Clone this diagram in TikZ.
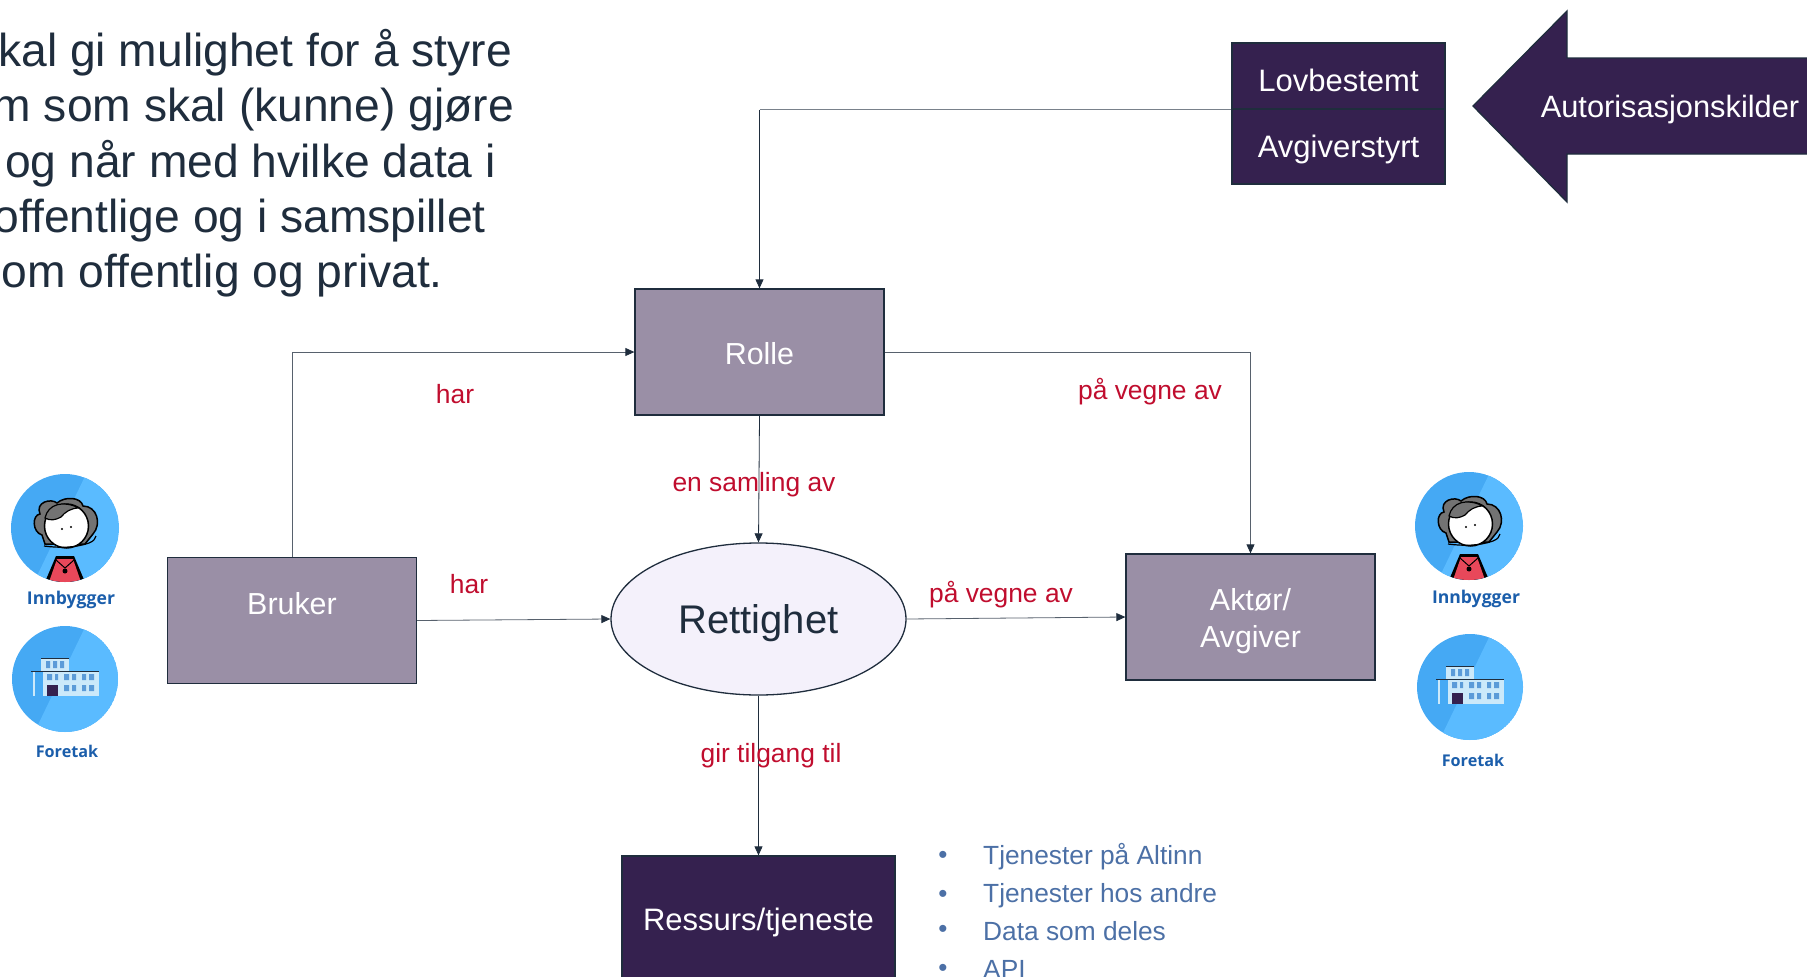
\documentclass[tikz,border=0pt]{standalone}
\usepackage{fontspec}
\setmainfont{Liberation Sans}
\newfontfamily\iconfont{Open Sans}
\usetikzlibrary{shapes.geometric, arrows.meta}
\definecolor{inkdark}{HTML}{1F2D3D}
\definecolor{boxdark}{HTML}{35214F}
\definecolor{boxgrey}{HTML}{9A8FA6}
\definecolor{ovalfill}{HTML}{F4F1FB}
\definecolor{labelred}{HTML}{C00D2E}
\definecolor{itemblue}{HTML}{4C70A6}
\definecolor{iconblue}{HTML}{1B5EAB}
\definecolor{discdark}{HTML}{45A9F4}
\definecolor{disclight}{HTML}{5ABBFF}
\definecolor{buildlight}{HTML}{CBE9FA}
\definecolor{windowblue}{HTML}{5B9BD8}
\definecolor{bodyred}{HTML}{E8485A}
\tikzstyle{lead} = [anchor=base east, inner sep=0pt, text=inkdark, font=\fontsize{46.2}{55}\selectfont]
\tikzstyle{greybox} = [rectangle, minimum width=249pt, minimum height=126pt, align=center, draw=inkdark, line width=1.3pt, fill=boxgrey, text=white, font=\fontsize{30.4}{37}\selectfont]
\tikzstyle{darkbox} = [rectangle, minimum width=213pt, align=center, draw=inkdark, line width=1.3pt, fill=boxdark, text=white, font=\fontsize{31}{37}\selectfont]
\tikzstyle{oval} = [ellipse, minimum width=295pt, minimum height=152pt, inner sep=0pt, draw=inkdark, line width=1.3pt, fill=ovalfill, text=inkdark, font=\fontsize{40}{48}\selectfont]
\tikzstyle{arrow} = [draw=inkdark, line width=0.8pt, -{Triangle[length=9pt,width=8pt,color=inkdark,fill=inkdark]}]
\tikzstyle{rel} = [text=labelred, font=\fontsize{26.4}{31}\selectfont]
\tikzstyle{item} = [anchor=base west, inner sep=0pt, text=itemblue, font=\fontsize{26.3}{31}\selectfont, label={[text=itemblue, font=\fontsize{26}{31}\selectfont, label distance=40pt, inner sep=0pt, anchor=center, yshift=-1pt]west:•}]
\tikzstyle{iconlabel} = [text=iconblue, font=\iconfont\bfseries\fontsize{17.6}{20}\selectfont]

\newcommand{\iconbase}[1]{
  \clip (0,0) circle (#1);
  \fill[discdark] (0,0) circle (#1);
  \fill[disclight] (24,-60) -- (-30,52) -- (70,70) -- (70,-60) -- cycle;
}
\newcommand{\personicon}[1]{
\begin{scope}[shift={#1}]
  \iconbase{54}
  % body
  \fill[black] (-20,54) -- (-9,28) -- (9,28) -- (20,54) -- cycle;
  \fill[bodyred] (-16,54) -- (-8,31) -- (8,31) -- (16,54) -- cycle;
  \draw[black, line width=1pt] (-9,32) -- (0,40) -- (9,32);
  \fill[black] (0,43) circle (2.5);
  % hair
  \draw[black, line width=1.5pt, fill=black!55] (-23,7) .. controls (-33,4) and (-33,-13) .. (-25,-14)
    .. controls (-30,-26) and (-14,-30) .. (-8,-25) .. controls (0,-32) and (16,-31) .. (18,-22)
    .. controls (32,-22) and (37,-4) .. (28,6) -- (20,16) -- (-20,16) -- cycle;
  % face
  \draw[black, line width=1.5pt, fill=white] (1.5,-2) circle (22);
  \draw[black, line width=1.2pt, fill=black!55] (-20,-10) .. controls (-17,-24) and (-2,-28) .. (14,-20)
    .. controls (6,-20) and (0,-16) .. (-4,-11) .. controls (-9,-8) and (-15,-7) .. (-20,-10) -- cycle;
  \fill[black] (-3,1) circle (1.1);
  \fill[black] (6,-1) circle (1.1);
  \draw[black, line width=1.2pt] (-21,18) .. controls (-6,20) and (10,20) .. (24,15) .. controls (29,13) and (30,11) .. (31,8);
\end{scope}
}
\newcommand{\buildingicon}[1]{
\begin{scope}[shift={#1}]
  \iconbase{53}
  \fill[buildlight] (-24,-21) rectangle (4,-8);
  \fill[buildlight] (-22,-8) rectangle (34,17);
  \fill[buildlight] (-32,-8) rectangle (-30,17);
  \draw[inkdark, line width=1pt] (-24,-21) -- (4,-21);
  \draw[inkdark, line width=1pt] (-34,-8) -- (34,-8);
  \fill[boxdark] (-18,6) rectangle (-7,17);
  \fill[windowblue] (-19,-18) rectangle (-15,-11) (-12,-18) rectangle (-8,-11) (-5,-18) rectangle (-1,-11);
  \fill[windowblue] (-18,-5) rectangle (-13,1) (-10,-5) rectangle (-7,1)
    (-1,-5) rectangle (4,1) (7,-5) rectangle (11,1) (17,-5) rectangle (21,1) (24,-5) rectangle (29,1)
    (-1,6) rectangle (4,12) (7,6) rectangle (11,12) (17,6) rectangle (21,12) (24,6) rectangle (29,12);
\end{scope}
}

\begin{document}
\begin{tikzpicture}[x=1pt, y=-1pt]

\clip (0,0) rectangle (1807,977);

\node at (512, 66) (leadA) [lead] {kal gi mulighet for å styre};
\node at (514, 121) (leadB) [lead] {m som skal (kunne) gjøre};
\node at (496, 177) (leadC) [lead] {og når med hvilke data i};
\node at (486, 232) (leadD) [lead] {offentlige og i samspillet};
\node at (443, 287) (leadE) [lead] {om offentlig og privat.};

\node at (759.5, 352) (rolle) [greybox, text height=26pt] {Rolle};
\node at (292, 620.5) (bruker) [greybox, text depth=34pt] {Bruker};
\node at (1250.5, 617) (aktor) [greybox] {\rule{0pt}{30pt}Aktør/\\Avgiver};
\node at (758.5, 619) (rettighet) [oval, text height=38pt] {Rettighet};
\node at (758.5, 920) (ressurs) [darkbox, minimum width=273pt, minimum height=128pt, text height=27pt] {Ressurs/tjeneste};

\node at (1338.5, 76) (lovbestemt) [darkbox, minimum height=66pt, text height=30pt, text depth=0pt] {Lovbestemt};
\node at (1338.5, 146.5) (avgiverstyrt) [darkbox, minimum height=75pt, text height=28pt] {Avgiverstyrt};
\draw [draw=inkdark, line width=1.5pt] (avgiverstyrt.north west) -- (avgiverstyrt.north east);

\draw [draw=inkdark, line width=1.3pt, fill=boxdark] (1473, 106) -- (1567, 11) -- (1567, 58) -- (1815, 58) -- (1815, 154) -- (1567, 154) -- (1567, 202) -- cycle;
\node at (1670, 110) (kilder) [text=white, font=\fontsize{30.8}{37}\selectfont] {Autorisasjonskilder};

\coordinate (lovbend) at (rolle.north |- lovbestemt.south west);
\draw [draw=inkdark!60, line width=0.8pt] (lovbestemt.south west) -- (lovbend);
\draw [arrow] (lovbend) -- (rolle.north);
\draw [arrow, draw=inkdark!75] (bruker.north) |- (rolle.west);
\draw [arrow, draw=inkdark!75] (rolle.east) -| (aktor.north);
\draw [arrow] (rolle.south) -- (rettighet.north);
\draw [arrow, draw=inkdark!75] (bruker.east) -- (rettighet.west);
\draw [arrow, draw=inkdark!75] (rettighet.east) -- (aktor.west);
\draw [arrow] (rettighet.south) -- (ressurs.north);

\node at (455, 394) (harA) [rel] {har};
\node at (754, 485) (samling) [rel] {en samling av};
\node at (469, 584) (harB) [rel] {har};
\node at (1150, 392) (vegneA) [rel] {på vegne av};
\node at (1001, 595) (vegneB) [rel] {på vegne av};
\node at (771, 756) (tilgang) [rel] {gir tilgang til};

\node at (983, 864) (itemA) [item] {Tjenester på Altinn};
\node at (983, 902) (itemB) [item] {Tjenester hos andre};
\node at (983, 940) (itemC) [item] {Data som deles};
\node at (983, 978) (itemD) [item] {API};

\personicon{(65, 528)}
\buildingicon{(65, 679)}
\personicon{(1469, 526)}
\buildingicon{(1470, 687)}

\node at (71, 600) (innbyggerA) [iconlabel] {Innbygger};
\node at (67, 751) (foretakA) [iconlabel, font=\iconfont\bfseries\fontsize{16.2}{20}\selectfont] {Foretak};
\node at (1476, 599) (innbyggerB) [iconlabel] {Innbygger};
\node at (1473, 760) (foretakB) [iconlabel, font=\iconfont\bfseries\fontsize{16.2}{20}\selectfont] {Foretak};

\end{tikzpicture}
\end{document}
